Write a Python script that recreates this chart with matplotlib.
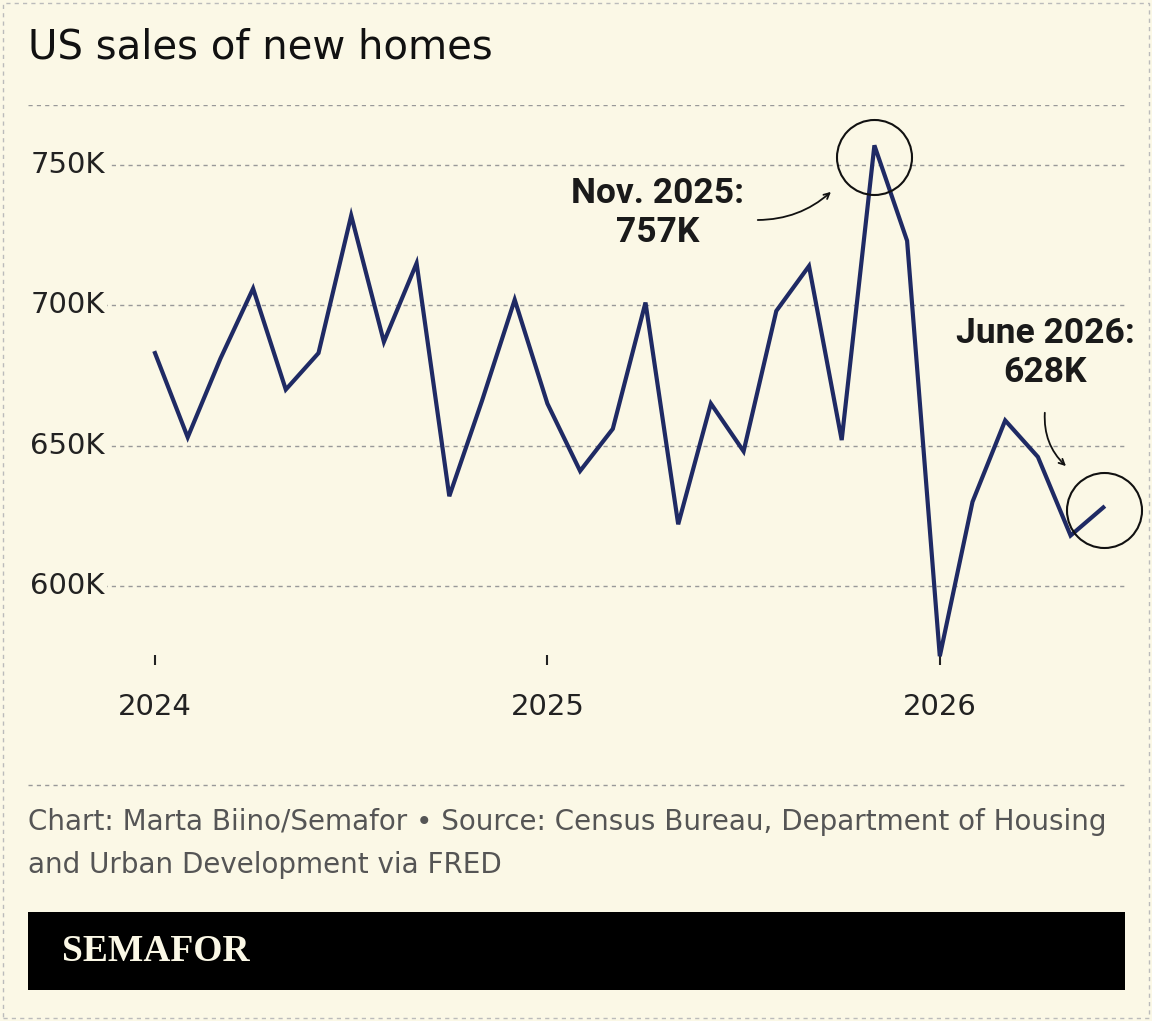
import matplotlib
matplotlib.use("Agg")
import matplotlib.pyplot as plt
from matplotlib.patches import Rectangle

months = list(range(30))  # Jan 2024 .. Jun 2026
sales = [683, 653, 681, 706, 670, 683, 732, 687, 715, 632, 666, 702,
         665, 641, 656, 701, 622, 665, 648, 698, 714, 652, 757, 723,
         575, 630, 659, 646, 618, 628]
yticks = [600, 650, 700, 750]
ytick_labels = ["600K", "650K", "700K", "750K"]
xticks = [0, 12, 24]
xtick_labels = ["2024", "2025", "2026"]

BG = "#FBF8E6"
LINE = "#1F2A64"
W, H = 1152, 1021
fig = plt.figure(figsize=(W/100, H/100), dpi=100, facecolor=BG)

def fx(px): return px / W
def fy(py): return 1 - py / H

fig.patches.append(Rectangle((fx(3), fy(1018)), fx(1146), 1015/H, transform=fig.transFigure,
                             fill=False, ls=(0, (3, 3)), ec="#bbbbbb", lw=1))

ax = fig.add_axes([fx(28), fy(665), fx(1125) - fx(28), fy(105) - fy(665)])
ax.set_facecolor(BG)
ppm = 32.7
ax.set_xlim((28 - 155) / ppm, (1125 - 155) / ppm)
ax.set_ylim(750 - (665 - 165) / 2.807, 750 + (165 - 105) / 2.807)
for s in ax.spines.values():
    s.set_visible(False)
for v in yticks + [ax.get_ylim()[1]]:
    ax.axhline(v, color="#999999", ls=(0, (3, 3)), lw=1)
ax.set_yticks(yticks)
ax.set_yticklabels([])
for v, lab in zip(yticks, ytick_labels):
    ax.text(0.002, v, lab, transform=ax.get_yaxis_transform(), ha="left", va="center",
            fontsize=21, color="#222222", bbox=dict(fc=BG, ec="none", pad=2))
ax.tick_params(axis="y", length=0)
ax.set_xticks(xticks)
ax.set_xticklabels(xtick_labels, fontsize=21, color="#222222")
ax.tick_params(axis="x", direction="in", length=7, width=1.5, color="#222222", pad=20)

ax.plot(months, sales, color=LINE, lw=3, solid_joinstyle="miter", zorder=3)
ax.plot(months[22], sales[22] - 4, "o", ms=54, mfc="none", mec="#111111", mew=1.5, zorder=4, clip_on=False)
ax.plot(months[29] + 0.03, sales[29] - 1, "o", ms=54, mfc="none", mec="#111111", mew=1.5, zorder=4, clip_on=False)

bold = dict(fontsize=25.5, fontweight="bold", color="#1a1a1a", ha="center", va="center",
            fontfamily="Roboto", linespacing=1.2)
ax.text((658 - 155) / ppm, 750 - (213 - 165) / 2.807, "Nov. 2025:\n757K", **bold)
ax.text((1045 - 155) / ppm, 750 - (353 - 165) / 2.807, "June 2026:\n628K", **bold)
ax.annotate("", xy=((833 - 155) / ppm, 750 - (190 - 165) / 2.807),
            xytext=((755 - 155) / ppm, 750 - (220 - 165) / 2.807),
            arrowprops=dict(arrowstyle="->", color="#111111", lw=1.3, connectionstyle="arc3,rad=0.2"))
ax.annotate("", xy=((1068 - 155) / ppm, 750 - (468 - 165) / 2.807),
            xytext=((1045 - 155) / ppm, 750 - (410 - 165) / 2.807),
            arrowprops=dict(arrowstyle="->", color="#111111", lw=1.3, connectionstyle="arc3,rad=0.25"))

fig.text(fx(28), fy(47), "US sales of new homes", fontsize=29, color="#111111", va="center")
fig.add_artist(plt.Line2D([fx(28), fx(1125)], [fy(785), fy(785)], transform=fig.transFigure,
                          color="#999999", ls=(0, (3, 3)), lw=1))
fig.text(fx(28), fy(822), "Chart: Marta Biino/Semafor • Source: Census Bureau, Department of Housing",
         fontsize=20, color="#555555", va="center")
fig.text(fx(28), fy(865), "and Urban Development via FRED", fontsize=20, color="#555555", va="center")
fig.patches.append(Rectangle((fx(28), fy(990)), fx(1125) - fx(28), 78 / H, transform=fig.transFigure,
                             fc="black", ec="none"))
fig.text(fx(62), fy(951), "SEMAFOR", fontsize=27, fontweight="bold", color="#FBF8E6",
         va="center", fontfamily="Liberation Serif")

fig.savefig("out.png", dpi=100, facecolor=BG)
